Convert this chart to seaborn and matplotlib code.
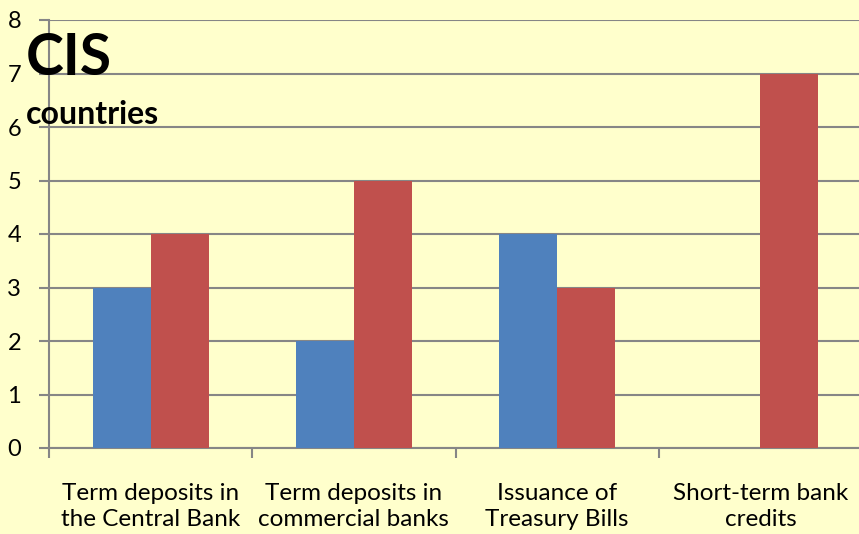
import matplotlib
matplotlib.use("Agg")
import matplotlib.pyplot as plt
import seaborn as sns
import pandas as pd

categories = [
    "Term deposits in\nthe Central Bank",
    "Term deposits in\ncommercial banks",
    "Issuance of\nTreasury Bills",
    "Short-term bank\ncredits",
]
series_names = ["Series 1", "Series 2"]
series1_values = [3, 2, 4, 0]
series2_values = [4, 5, 3, 7]
y_ticks = [0, 1, 2, 3, 4, 5, 6, 7, 8]

df = pd.DataFrame({
    "category": categories * 2,
    "series": [series_names[0]] * 4 + [series_names[1]] * 4,
    "value": series1_values + series2_values,
})

sns.set_theme(style="white")
plt.rcParams["font.family"] = ["Lato", "DejaVu Sans"]

bg = "#FFFFCC"
grid_c = "#868686"

fig = plt.figure(figsize=(8.59, 5.34), dpi=100, facecolor=bg)
ax = fig.add_axes([49 / 859, (534 - 448) / 534, 813 / 859, 428 / 534])
ax.set_facecolor(bg)

sns.barplot(
    data=df, x="category", y="value", hue="series",
    palette=["#4F81BD", "#C0504D"], width=0.57, gap=0,
    saturation=1, legend=False, ax=ax, zorder=3, linewidth=0,
)

ax.set_xlim(-0.5, 3.5)
ax.set_ylim(0, 8)
ax.set_yticks(y_ticks)
ax.set_yticklabels([str(v) for v in y_ticks], fontsize=17, color="black")
ax.set_xlabel("")
ax.set_ylabel("")

# Category labels at centers, tick marks at category boundaries
ax.set_xticks(range(len(categories)))
ax.set_xticklabels(categories, fontsize=17.5, color="black", linespacing=1.32)
ax.tick_params(axis="x", which="major", length=0, pad=25)
ax.set_xticks([-0.5, 0.5, 1.5, 2.5, 3.5], minor=True)
ax.tick_params(axis="x", which="minor", length=7, width=1.5, color=grid_c, direction="out", bottom=True)
ax.tick_params(axis="y", which="major", length=7, width=1.5, color=grid_c, direction="out", left=True, pad=13)

ax.yaxis.grid(True, color=grid_c, linewidth=1.5, zorder=0)
ax.set_axisbelow(True)

for side in ["top", "right"]:
    ax.spines[side].set_visible(False)
for side in ["left", "bottom"]:
    ax.spines[side].set_color(grid_c)
    ax.spines[side].set_linewidth(1.5)

fig.text(26 / 859, 1 - 75 / 534, "CIS", fontsize=41, fontweight="bold",
         color="black", ha="left", va="baseline")
fig.text(26 / 859, 1 - 124 / 534, "countries", fontsize=23, fontweight="bold",
         color="black", ha="left", va="baseline")

fig.savefig("out.png", dpi=100, facecolor=bg)
